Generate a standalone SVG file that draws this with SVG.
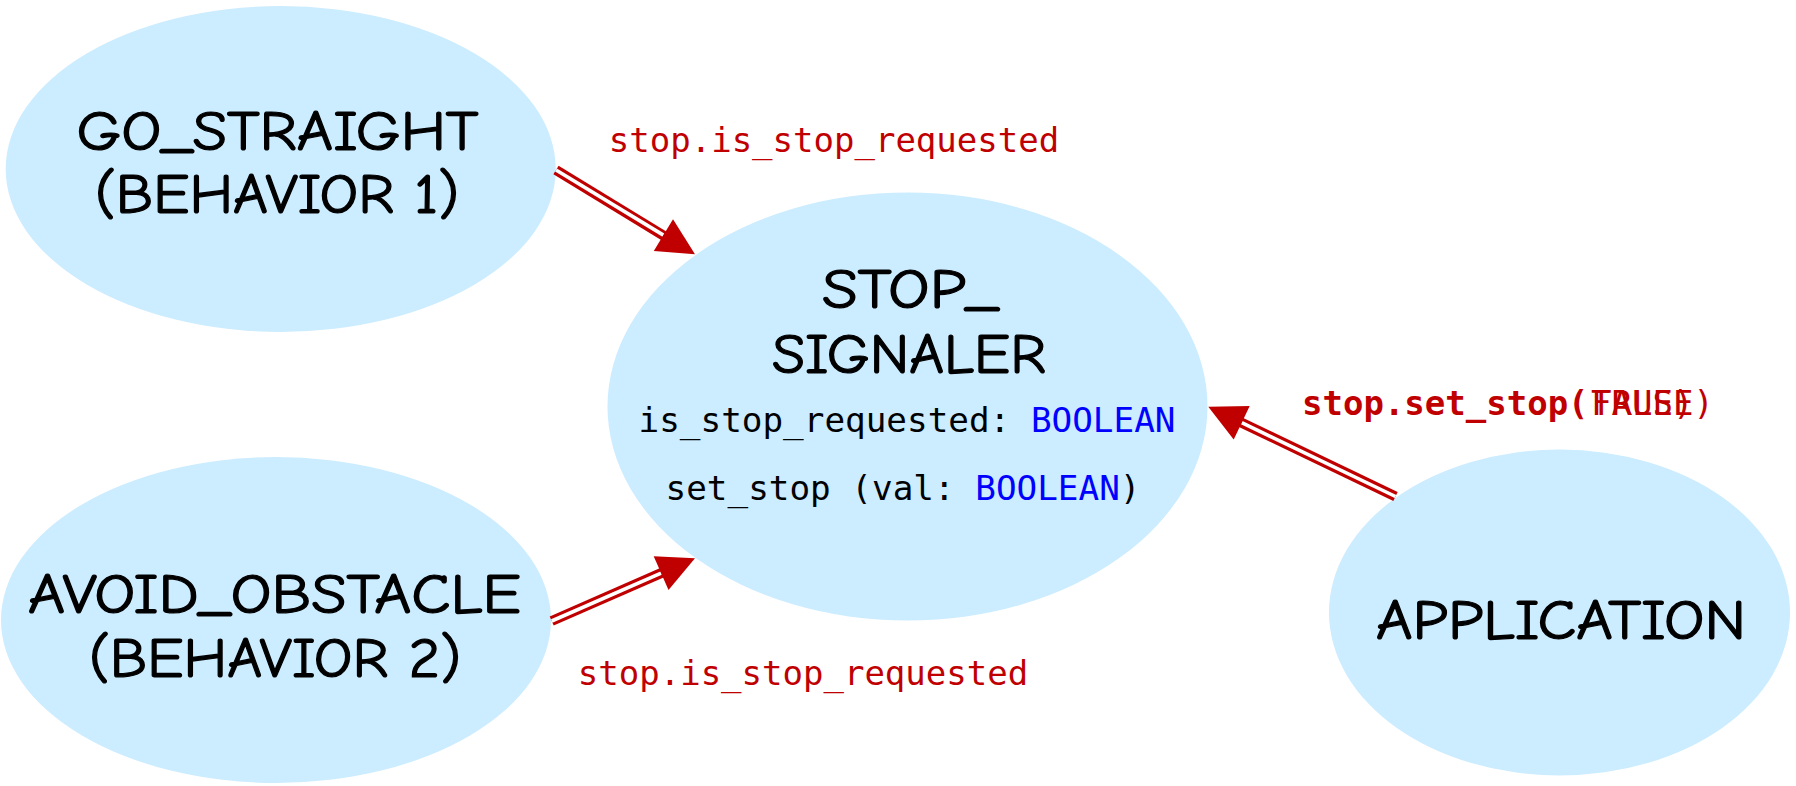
<svg xmlns="http://www.w3.org/2000/svg" width="1796" height="786" viewBox="0 0 1796 786">
<style>
.node{fill:#CCECFF;stroke:none}
.title{font-family:"Comic Sans MS","Comic Neue","DejaVu Sans",sans-serif;font-size:56px;fill:#000;stroke:#000;stroke-width:1.2;text-anchor:middle}
.code{font-family:"DejaVu Sans Mono","Liberation Mono",monospace;font-size:34.3px;fill:#000}
.kw{fill:#0000FF}
.lbl{font-family:"DejaVu Sans Mono","Liberation Mono",monospace;font-size:34px;fill:#C00000}
.outer{fill:none;stroke:#C00000;stroke-width:10}
.inner{fill:none;stroke:#FFFFFF;stroke-width:3.6}
.head{fill:#C00000;stroke:none}
</style>
<rect width="1796" height="786" fill="#FFFFFF"/>
<g id="node-go-straight">
<ellipse class="node" cx="280.7" cy="169" rx="275" ry="163"/>
<text class="title" x="277.5" y="150" textLength="402" lengthAdjust="spacingAndGlyphs">GO_STRAIGHT</text>
<text class="title" x="277" y="213" textLength="364" lengthAdjust="spacingAndGlyphs">(BEHAVIOR 1)</text>
</g>
<g id="node-avoid-obstacle">
<ellipse class="node" cx="276" cy="620" rx="275" ry="163"/>
<text class="title" x="274.5" y="613" textLength="493" lengthAdjust="spacingAndGlyphs">AVOID_OBSTACLE</text>
<text class="title" x="275" y="677" textLength="372" lengthAdjust="spacingAndGlyphs">(BEHAVIOR 2)</text>
</g>
<g id="node-stop-signaler">
<ellipse class="node" cx="907.5" cy="406.5" rx="300" ry="214"/>
<text class="title" x="910" y="308" textLength="176" lengthAdjust="spacingAndGlyphs">STOP_</text>
<text class="title" x="909" y="373" textLength="274" lengthAdjust="spacingAndGlyphs">SIGNALER</text>
<text class="code" x="907" y="432" text-anchor="middle">is_stop_requested: <tspan class="kw">BOOLEAN</tspan></text>
<text class="code" x="903" y="500" text-anchor="middle">set_stop (val: <tspan class="kw">BOOLEAN</tspan>)</text>
</g>
<g id="node-application">
<ellipse class="node" cx="1559.5" cy="612.5" rx="230.5" ry="163"/>
<text class="title" x="1561" y="639" textLength="370" lengthAdjust="spacingAndGlyphs">APPLICATION</text>
</g>
<g id="connectors">
<g id="edge-go-straight">
<path class="outer" d="M556,170 L667,237.7"/>
<path class="inner" d="M556,170 L663.4,235.1"/>
<polygon class="head" points="695,254.3 653.8,250.9 673,219.3"/>
<text class="lbl" x="834" y="151.5" text-anchor="middle">stop.is_stop_requested</text>
</g>
<g id="edge-avoid-obstacle">
<path class="outer" d="M551.7,621 L664.5,571.6"/>
<path class="inner" d="M551.7,621 L661.1,573.1"/>
<polygon class="head" points="695,558.3 668.5,590 653.7,556.2"/>
<text class="lbl" x="803" y="685" text-anchor="middle">stop.is_stop_requested</text>
</g>
<g id="edge-application">
<path class="outer" d="M1395.5,496.5 L1238.5,421.2"/>
<path class="inner" d="M1395.5,496.5 L1241.7,422.7"/>
<polygon class="head" points="1208.3,406.7 1249.7,406 1233.7,439.4"/>
<text class="lbl" x="1302" y="415"><tspan font-weight="bold">stop.set_stop(</tspan></text>
<text class="lbl" x="1591" y="415">TRUE)</text>
<text class="lbl" x="1591" y="415">FALSE)</text>
</g>
</g>
</svg>
